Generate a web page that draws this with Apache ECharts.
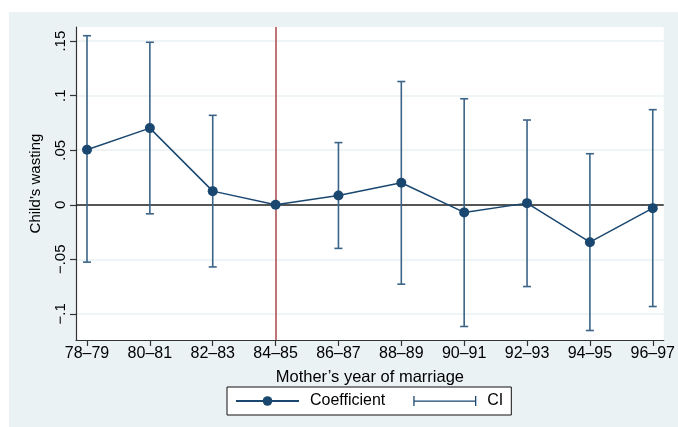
<!DOCTYPE html>
<html>
<head>
<meta charset="utf-8">
<script src="https://cdn.jsdelivr.net/npm/echarts@6/dist/echarts.min.js"></script>
<style>
  html, body { margin: 0; padding: 0; background: #ffffff; }
  #chart { width: 678px; height: 427px; }
</style>
</head>
<body>
<div id="chart"></div>
<script>
// Marriage-year cohorts (x axis categories)
const periods = ['78–79', '80–81', '82–83', '84–85', '86–87', '88–89', '90–91', '92–93', '94–95', '96–97'];
// Point estimates of the effect on child wasting
const coefficient = [0.0505, 0.0703, 0.0125, 0, 0.0085, 0.0202, -0.0070, 0.0015, -0.0343, -0.0031];
// Confidence interval bounds (reference cohort 84–85 has none)
const ciLow  = [-0.0526, -0.0083, -0.0570, null, -0.0400, -0.0728, -0.1116, -0.0750, -0.1153, -0.0933];
const ciHigh = [0.1550, 0.1490, 0.0820, null, 0.0570, 0.1130, 0.0972, 0.0777, 0.0468, 0.0872];
// Y axis tick values and their labels
const yTicks = [-0.1, -0.05, 0, 0.05, 0.1, 0.15];
const yTickLabels = ['−.1', '−.05', '0', '.05', '.1', '.15'];
// Reference cohort marked with a vertical line
const referencePeriod = '84–85';

const FONT = 'Liberation Sans, Arial, Helvetica, sans-serif';
const NAVY = '#1a476f';
const CI_COLOR = '#3b6488';

const xIdx = periods.map((_, i) => i);
const lineData = coefficient.map((v, i) => [i, v]);
const ciData = [];
periods.forEach((_, i) => {
  if (ciLow[i] !== null && ciHigh[i] !== null) ciData.push([i, ciLow[i], ciHigh[i]]);
});

const chart = echarts.init(document.getElementById('chart'), null, { renderer: 'canvas' });

chart.setOption({
  animation: false,
  graphic: [{
    type: 'rect',
    z: -10,
    silent: true,
    shape: { x: 9, y: 12, width: 669, height: 415 },
    style: { fill: '#eaf2f3' }
  }],
  grid: {
    left: 76, right: 13, top: 27, bottom: 87,
    show: true, backgroundColor: '#ffffff', borderWidth: 0
  },
  xAxis: {
    type: 'value',
    min: -0.175,
    max: 9.175,
    name: 'Mother’s year of marriage',
    nameLocation: 'middle',
    nameGap: 29,
    nameTextStyle: { fontFamily: FONT, fontSize: 16.5, color: '#000' },
    axisLine: { show: true, onZero: false, lineStyle: { color: '#333', width: 1.2 } },
    axisTick: { show: true, length: 6, customValues: xIdx, lineStyle: { color: '#333', width: 1.2 } },
    axisLabel: {
      customValues: xIdx,
      formatter: v => periods[Math.round(v)],
      fontFamily: FONT, fontSize: 16, color: '#000', margin: 6
    },
    splitLine: { show: false }
  },
  yAxis: {
    type: 'value',
    min: -0.124,
    max: 0.163,
    name: 'Child’s wasting',
    nameLocation: 'middle',
    nameGap: 33,
    nameTextStyle: { fontFamily: FONT, fontSize: 15, color: '#000' },
    axisLine: { show: true, onZero: false, lineStyle: { color: '#333', width: 1.2 } },
    axisTick: { show: true, length: 6, customValues: yTicks, lineStyle: { color: '#333', width: 1.2 } },
    axisLabel: {
      customValues: yTicks,
      rotate: 90,
      formatter: v => {
        const k = yTicks.findIndex(t => Math.abs(t - v) < 1e-9);
        return k >= 0 ? yTickLabels[k] : '';
      },
      fontFamily: FONT, fontSize: 15, color: '#000', margin: 8
    },
    splitLine: { show: true, lineStyle: { color: '#eaf2f3', width: 1.5 } }
  },
  legend: {
    left: 227,
    top: 387,
    orient: 'horizontal',
    backgroundColor: '#ffffff',
    borderColor: '#111',
    borderWidth: 1,
    borderRadius: 0,
    padding: [6, 8, 6, 8],
    itemGap: 28,
    itemWidth: 63,
    itemHeight: 12,
    textStyle: { fontFamily: FONT, fontSize: 16, color: '#000', padding: [0, 0, 0, 6] },
    data: [
      { name: 'Coefficient' },
      { name: 'CI', icon: 'path://M0,1h1.3v10h-1.3z M0,5.4h64v1.3h-64z M62.7,1h1.3v10h-1.3z', itemStyle: { color: NAVY } }
    ]
  },
  series: [
    {
      name: 'CI',
      type: 'custom',
      z: 2,
      itemStyle: { color: CI_COLOR },
      data: ciData,
      encode: { x: 0, y: [1, 2] },
      renderItem: (params, api) => {
        const x = api.value(0);
        const lo = api.coord([x, api.value(1)]);
        const hi = api.coord([x, api.value(2)]);
        const cap = 4;
        const style = { stroke: CI_COLOR, lineWidth: 1.6, fill: null };
        return {
          type: 'group',
          children: [
            { type: 'line', shape: { x1: lo[0], y1: lo[1], x2: hi[0], y2: hi[1] }, style },
            { type: 'line', shape: { x1: hi[0] - cap, y1: hi[1], x2: hi[0] + cap, y2: hi[1] }, style },
            { type: 'line', shape: { x1: lo[0] - cap, y1: lo[1], x2: lo[0] + cap, y2: lo[1] }, style }
          ]
        };
      }
    },
    {
      name: 'Coefficient',
      type: 'line',
      z: 5,
      data: lineData,
      symbol: 'circle',
      symbolSize: 10,
      itemStyle: { color: NAVY },
      lineStyle: { color: NAVY, width: 1.5 },
      markLine: {
        silent: true,
        symbol: ['none', 'none'],
        label: { show: false },
        z: 1,
        data: [
          { yAxis: 0, lineStyle: { color: '#222', width: 1.5, type: 'solid' } },
          { xAxis: periods.indexOf(referencePeriod), lineStyle: { color: '#a8474c', width: 1.5, type: 'solid' } }
        ]
      }
    }
  ]
});
</script>
</body>
</html>
